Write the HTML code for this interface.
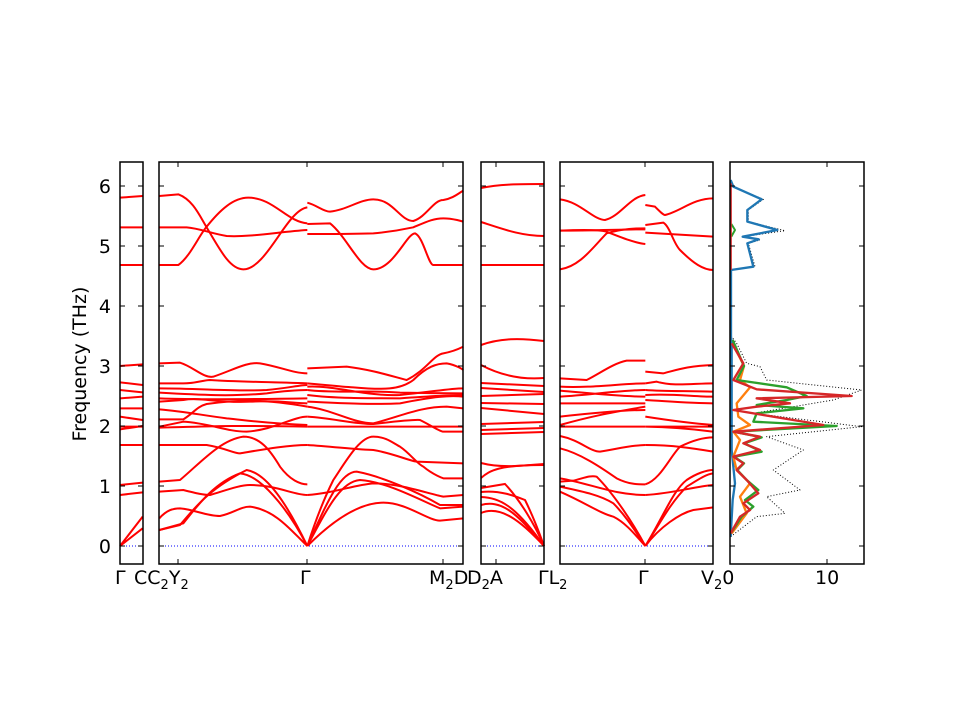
<!DOCTYPE html>
<html><head><meta charset="utf-8"><style>
body{margin:0;background:#fff}
svg{display:block}
text{font-family:"DejaVu Sans","Liberation Sans",sans-serif;font-size:19px;fill:#000}
.b{fill:none;stroke:#f00;stroke-width:6;stroke-linejoin:round}
.b2{fill:none;stroke:#f00;stroke-width:2}
.ax{fill:none;stroke:#000;stroke-width:1.5}
.tk{stroke:#000;stroke-width:1}
</style></head><body>
<svg width="960" height="720" viewBox="0 0 960 720">
<g stroke="#00f" stroke-width="1" stroke-dasharray="1,2">
<line x1="120" y1="546" x2="143" y2="546"/><line x1="159" y1="546" x2="463" y2="546"/>
<line x1="481" y1="546" x2="544" y2="546"/><line x1="560" y1="546" x2="713" y2="546"/>
</g>
<g transform="translate(100,150) scale(0.3333333)">
<g class="b">
<path d="M60 143L128 138M60 232H128M60 345H128M60 648L128 643M60 697L128 705M60 720L128 727M60 745L128 740M60 775H128M60 800L128 810M60 830H128M60 838L128 828M60 885H128M60 1005L128 998M60 1035L128 1027M60 1188L128 1100M60 1188L128 1135"/>
<path d="M178 138L235 133C280 150 300 200 320 232C360 300 390 358 430 358C500 358 560 180 622 172"/>
<path d="M178 345L235 345C270 320 295 260 320 230C360 180 400 143 445 143C520 143 560 215 622 220"/>
<path d="M178 232L260 232C300 235 330 250 380 258C450 262 540 245 622 240"/>
<path d="M622 158C650 165 670 185 690 185C740 180 780 148 820 148C880 148 900 213 940 213C980 200 1000 150 1030 150C1060 145 1075 130 1090 122"/>
<path d="M622 222L690 220C740 260 780 358 820 358C880 358 920 250 945 250C970 260 985 345 1000 345H1090"/>
<path d="M622 252C700 252 760 252 820 250C880 245 940 232 940 232C980 215 1000 205 1030 205C1060 205 1090 215 1090 215"/>
<path d="M178 640L240 638C280 650 310 685 340 680C400 660 440 635 480 640C540 650 580 670 622 670"/>
<path d="M178 700L250 700C290 700 310 690 330 690C400 695 470 695 622 700"/>
<path d="M178 715C300 715 400 725 500 720C560 715 600 705 622 705"/>
<path d="M178 728C300 735 400 740 500 730C560 722 600 720 622 720"/>
<path d="M178 745C300 750 450 748 622 745"/>
<path d="M178 755L250 750C300 740 350 760 450 755C540 750 580 760 622 760"/>
<path d="M178 778C260 785 300 795 380 805C450 812 500 820 622 825"/>
<path d="M178 830L250 815C330 820 380 845 440 845C520 840 580 800 622 800"/>
<path d="M178 808L250 808C280 790 290 770 320 762C400 750 480 745 622 770"/>
<path d="M178 833C300 830 400 825 622 830"/>
<path d="M178 885L320 885C380 895 400 910 420 910C480 900 560 885 622 885"/>
<path d="M178 995L240 990C300 940 360 870 430 860C480 860 510 900 540 950C570 990 600 1003 622 1003"/>
<path d="M178 1025L250 1020C290 1030 310 1035 330 1035C380 1020 420 1005 450 1005C530 1005 580 1035 622 1035"/>
<path d="M178 1105C200 1080 220 1075 240 1075C280 1078 320 1098 360 1098C400 1090 420 1070 450 1070C530 1080 580 1150 622 1188"/>
<path d="M178 1140L240 1125C280 1080 320 1020 440 960C500 970 560 1060 622 1188"/>
<path d="M178 1140L250 1120C290 1070 340 1000 420 970C480 975 560 1070 622 1188"/>
<path d="M622 655L740 650C820 660 880 680 920 690C980 660 1000 615 1030 610C1060 605 1080 595 1090 590"/>
<path d="M622 700C680 705 720 710 760 712C850 720 900 720 940 690C980 650 1010 640 1040 640C1070 645 1090 660 1090 660"/>
<path d="M622 710C700 705 800 740 900 735C1000 725 1050 715 1090 715"/>
<path d="M622 720C700 730 800 720 900 728C1000 730 1050 730 1090 730"/>
<path d="M622 735C700 745 800 745 900 745C1000 738 1050 735 1090 735"/>
<path d="M622 755C700 758 800 765 900 760C1000 740 1050 735 1090 740"/>
<path d="M622 770C700 780 760 820 820 820C900 800 960 770 1040 770L1090 775"/>
<path d="M622 800C700 805 760 822 820 822C880 815 940 808 960 810C1000 830 1020 845 1030 845H1090"/>
<path d="M622 830H1090"/>
<path d="M622 885C700 890 780 900 820 900C880 910 920 930 950 935L1090 940"/>
<path d="M622 1188C650 1100 680 1030 700 990C740 930 780 860 820 860C860 860 880 880 900 890C930 910 950 940 970 950C1000 975 1030 985 1030 985H1090"/>
<path d="M622 1035C700 1030 760 1005 820 1000C900 1000 980 1030 1030 1040L1090 1035"/>
<path d="M622 1188C680 1060 720 965 770 965C850 980 960 1030 1020 1065L1090 1065"/>
<path d="M622 1188C680 1080 720 995 780 990C860 995 960 1050 1020 1075L1090 1070"/>
<path d="M622 1188C700 1110 780 1058 850 1058C920 1058 980 1110 1020 1112L1090 1105"/>
</g>
</g>
<g class="b2">
<path d="M481 188C500 184 520 184 544 184"/>
<path d="M481 222C500 228 520 236 544 236"/>
<path d="M481 265H544"/>
<path d="M481 345C500 338 520 338 544 341"/>
<path d="M481 365C500 375 520 380 544 378"/>
<path d="M481 383L544 386M481 388L544 392M481 396L544 394M481 403L544 404M481 408L544 414M481 424L544 422M481 430L544 428M481 434L544 432"/>
<path d="M481 463C500 468 520 466 544 464"/>
<path d="M481 478C490 470 500 465 544 465"/>
<path d="M481 488L505 484C520 500 535 525 544 546"/>
<path d="M481 492C500 490 515 496 525 500C535 520 540 535 544 546"/>
<path d="M481 497C500 498 515 505 544 546"/>
<path d="M481 505C500 500 515 510 544 546"/>
<path d="M481 513C500 505 520 520 544 546"/>
</g>
<g transform="translate(540,150) scale(0.3333333)">
<g class="b">
<path d="M60 148C120 155 160 210 195 210C240 200 270 140 316 135"/>
<path d="M60 242C160 242 250 238 316 238"/>
<path d="M60 242C140 238 180 240 200 245C250 265 290 280 316 282"/>
<path d="M60 358C120 350 160 290 200 250C250 235 290 235 316 235"/>
<path d="M316 165L345 170C360 185 370 195 375 195C420 185 460 145 520 145"/>
<path d="M316 225L370 218C390 230 400 280 420 300C460 340 490 360 520 360"/>
<path d="M316 248L520 260"/>
<path d="M60 685L140 690C180 670 220 640 260 632H316"/>
<path d="M60 710C150 715 250 700 316 700M60 722C150 730 250 740 316 740M60 740C150 735 250 720 316 720M60 760C150 760 250 760 316 760M60 800C150 790 250 780 316 780M60 830H316M60 825C150 800 200 790 316 770"/>
<path d="M60 858C120 870 150 905 180 905C240 895 280 885 316 885"/>
<path d="M60 895C120 910 180 950 230 985C270 1005 300 1003 316 1003"/>
<path d="M60 995L100 992C130 985 150 975 170 980C220 1030 280 1120 316 1188"/>
<path d="M60 985C150 1000 220 1035 316 1035"/>
<path d="M60 1010C130 1025 180 1035 220 1060C260 1100 290 1150 316 1188"/>
<path d="M60 1025C140 1060 180 1090 220 1100C260 1120 290 1160 316 1188"/>
<path d="M316 665L370 670C410 660 440 648 520 645M316 700L350 695C400 710 460 700 520 700M316 720C380 725 450 722 520 725M316 735C400 730 460 740 520 740M316 750C400 755 460 760 520 760M316 800C380 810 450 820 520 825M316 830H520M316 830C420 832 480 840 520 845"/>
<path d="M316 885C400 885 460 895 520 905"/>
<path d="M316 1003C360 990 390 920 420 890C460 870 490 862 520 862"/>
<path d="M316 1035C400 1030 460 1010 520 1005"/>
<path d="M316 1188C370 1100 400 1020 440 990C470 970 500 960 520 960"/>
<path d="M316 1188C360 1120 390 1060 440 1010C480 985 500 972 520 970"/>
<path d="M316 1188C360 1130 420 1090 460 1080L520 1072"/>
</g>
<g fill="none" stroke-linejoin="round">
<polyline stroke="#000" stroke-width="3" stroke-dasharray="3,6" points="572,1160 650,1100 735,1090 680,1040 780,1020 700,960 790,900 680,860 965,830 640,790 880,750 965,720 680,690 660,650 620,640 590,580 575,560"/>
<polyline stroke="#000" stroke-width="3" stroke-dasharray="3,6" points="575,360 645,350 625,280 660,270 610,260 735,242 625,215 625,180 670,148 580,110 572,90"/>
<polyline stroke="#1f77b4" stroke-width="7" points="572,1160 578,1050 585,1000 575,900 575,580 573,560 573,360 640,350 622,280 656,268 608,260 712,240 622,215 622,180 665,148 580,110 572,90"/>
<polyline stroke="#ff7f0e" stroke-width="7" points="575,1150 620,1090 600,1040 630,1000 590,960 580,920 600,870 580,845 630,825 595,800 590,760 630,712 600,690 612,648 578,580"/>
<polyline stroke="#2ca02c" stroke-width="7" points="572,1150 605,1100 640,1070 615,1050 655,1020 620,990 592,960 612,940 582,920 665,905 612,880 665,862 580,845 890,828 640,815 650,790 790,775 650,765 740,750 800,738 740,712 590,690 612,648 578,570"/>
<polyline stroke="#2ca02c" stroke-width="6" points="574,260 585,240 574,222"/>
<polyline stroke="#d62728" stroke-width="7" points="572,1150 600,1100 630,1080 610,1060 655,1030 620,990 590,960 610,940 580,920 660,900 610,880 660,860 580,845 850,825 580,780 650,770 750,760 650,745 935,738 650,718 580,690 610,640 575,580"/>
<polyline stroke="#d62728" stroke-width="5" points="573,360 573,100"/>
</g>
</g>
<g class="ax">
<rect x="120" y="162" width="23" height="402"/>
<rect x="159" y="162" width="304" height="402"/>
<rect x="481" y="162" width="63" height="402"/>
<rect x="560" y="162" width="153" height="402"/>
<rect x="730" y="162" width="134" height="402"/>
</g>
<g class="tk">
<path d="M120 546h5M120 486h5M120 426h5M120 366h5M120 306h5M120 246h5M120 186h5M143 546h-5M143 486h-5M143 426h-5M143 366h-5M143 306h-5M143 246h-5M143 186h-5"/>
<path d="M159 546h5M159 486h5M159 426h5M159 366h5M159 306h5M159 246h5M159 186h5M463 546h-5M463 486h-5M463 426h-5M463 366h-5M463 306h-5M463 246h-5M463 186h-5"/>
<path d="M481 546h5M481 486h5M481 426h5M481 366h5M481 306h5M481 246h5M481 186h5M544 546h-5M544 486h-5M544 426h-5M544 366h-5M544 306h-5M544 246h-5M544 186h-5"/>
<path d="M560 546h5M560 486h5M560 426h5M560 366h5M560 306h5M560 246h5M560 186h5M713 546h-5M713 486h-5M713 426h-5M713 366h-5M713 306h-5M713 246h-5M713 186h-5"/>
<path d="M730 546h5M730 486h5M730 426h5M730 366h5M730 306h5M730 246h5M730 186h5M864 546h-5M864 486h-5M864 426h-5M864 366h-5M864 306h-5M864 246h-5M864 186h-5"/>
<path d="M178 162v5M178 564v-5M307 162v5M307 564v-5M443 162v5M443 564v-5M496 162v5M496 564v-5M645 162v5M645 564v-5M827 162v5M827 564v-5"/>
</g>
<g text-anchor="end">
<text x="111" y="553">0</text><text x="111" y="493">1</text><text x="111" y="433">2</text><text x="111" y="373">3</text><text x="111" y="313">4</text><text x="111" y="253">5</text><text x="111" y="193">6</text>
</g>
<text transform="translate(86,364) rotate(-90)" text-anchor="middle">Frequency (THz)</text>
<g>
<text x="115" y="584">Γ</text>
<text x="134" y="584">CC<tspan font-size="13" dy="5">2</tspan><tspan dy="-5">Y</tspan><tspan font-size="13" dy="5">2</tspan></text>
<text x="300" y="584">Γ</text>
<text x="429" y="584">M<tspan font-size="13" dy="5">2</tspan><tspan dy="-5">D</tspan></text>
<text x="467" y="584">D<tspan font-size="13" dy="5">2</tspan><tspan dy="-5">A</tspan></text>
<text x="538" y="584">ΓL<tspan font-size="13" dy="5">2</tspan></text>
<text x="638" y="584">Γ</text>
<text x="701" y="584">V<tspan font-size="13" dy="5">2</tspan><tspan dy="-5">0</tspan></text>
<text x="815" y="584">10</text>
</g>
</svg>
</body></html>
